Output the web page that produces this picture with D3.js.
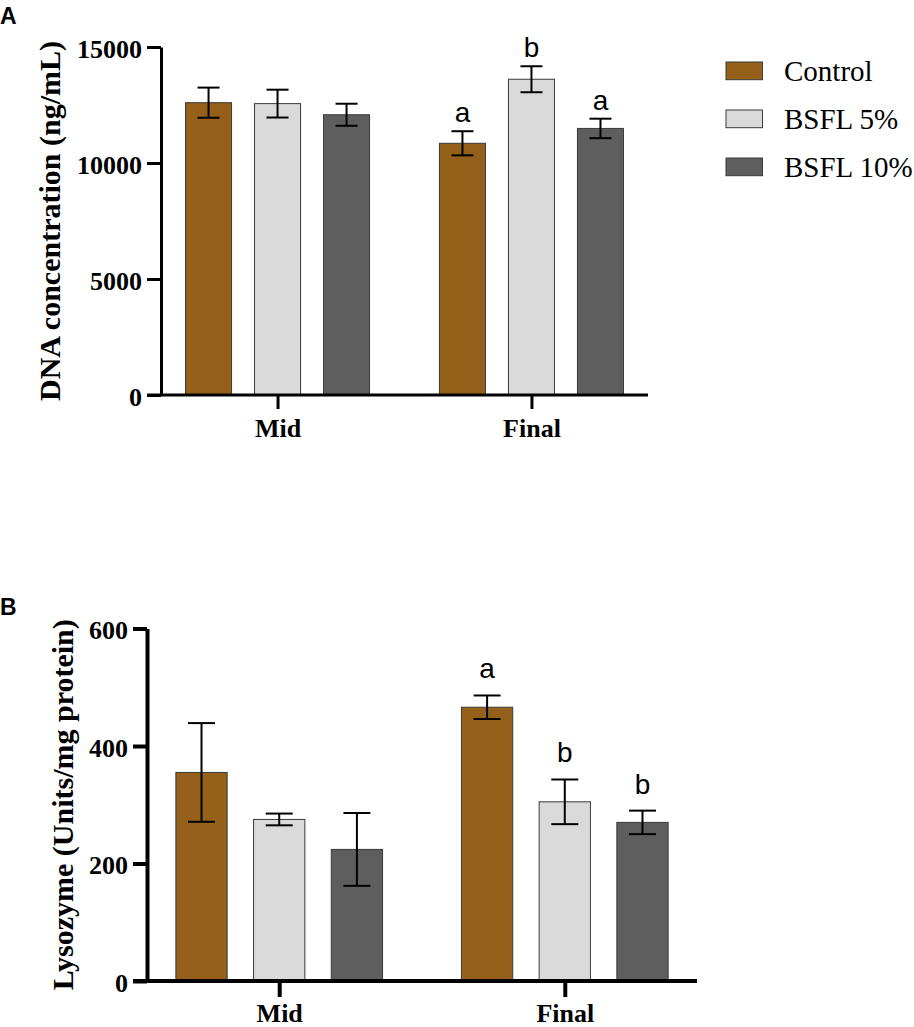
<!DOCTYPE html>
<html>
<head>
<meta charset="utf-8">
<script src="https://cdn.jsdelivr.net/npm/d3@7"></script>
<style>
  body { margin: 0; background: #fff; }
  svg { display: block; }
</style>
</head>
<body>
<div id="chart"></div>
<script>
const width = 914;
const height = 1027;

// data
const groups = ["Mid", "Final"];
const series = ["Control", "BSFL 5%", "BSFL 10%"];
const colors = ["#94601a", "#dadada", "#5e5e5e"];

// panel A: DNA concentration, order = Mid(Control, 5%, 10%), Final(Control, 5%, 10%)
const dnaMean = [12600, 12560, 12080, 10850, 13610, 11490];
const dnaErr = [650, 600, 475, 520, 560, 420];
const dnaLetters = ["", "", "", "a", "b", "a"];
const dnaTicks = [0, 5000, 10000, 15000];

// panel B: lysozyme
const lysMean = [355, 275, 224, 466, 305, 270];
const lysErr = [84, 10, 62, 20, 38, 20];
const lysLetters = ["", "", "", "a", "b", "b"];
const lysTicks = [0, 200, 400, 600];

const serif = "'Liberation Serif', 'Times New Roman', serif";
const sans = "'Liberation Sans', Arial, sans-serif";

const svg = d3.select("#chart").append("svg")
  .attr("width", width)
  .attr("height", height);

function panel(opt) {
  const g = svg.append("g");

  const y = d3.scaleLinear().domain([0, opt.yMax]).range([opt.y0, opt.yTop]);
  const x = d3.scalePoint().domain(groups).range([opt.xAxis, opt.xEnd]).padding(opt.pad);
  const inner = d3.scaleBand().domain(series)
    .range([-1.5 * opt.step, 1.5 * opt.step])
    .paddingInner(opt.barPad).paddingOuter(opt.barPad / 2);

  const rows = [];
  groups.forEach((grp, gi) => {
    series.forEach((s, si) => {
      const i = gi * series.length + si;
      rows.push({ grp, s, si, v: opt.mean[i], e: opt.err[i], lab: opt.letters[i] });
    });
  });

  const cx = d => x(d.grp) + inner(d.s) + inner.bandwidth() / 2;

  // bars
  g.selectAll("rect.bar").data(rows).enter().append("rect")
    .attr("class", "bar")
    .attr("x", d => x(d.grp) + inner(d.s))
    .attr("y", d => y(d.v))
    .attr("width", inner.bandwidth())
    .attr("height", d => y(0) - y(d.v))
    .attr("fill", d => colors[d.si])
    .attr("stroke", "#3a3a3a")
    .attr("stroke-width", 1);

  // error bars
  const eb = g.selectAll("g.err").data(rows).enter().append("g")
    .attr("stroke", "#000")
    .attr("stroke-width", 2);
  eb.append("line")
    .attr("x1", cx).attr("x2", cx)
    .attr("y1", d => y(d.v + d.e)).attr("y2", d => y(d.v - d.e));
  eb.append("line")
    .attr("x1", d => cx(d) - opt.cap / 2).attr("x2", d => cx(d) + opt.cap / 2)
    .attr("y1", d => y(d.v + d.e)).attr("y2", d => y(d.v + d.e));
  eb.append("line")
    .attr("x1", d => cx(d) - opt.cap / 2).attr("x2", d => cx(d) + opt.cap / 2)
    .attr("y1", d => y(d.v - d.e)).attr("y2", d => y(d.v - d.e));

  // significance letters
  g.selectAll("text.sig").data(rows.filter(d => d.lab)).enter().append("text")
    .attr("x", cx)
    .attr("y", d => y(d.v + d.e) - opt.letterGap)
    .attr("text-anchor", "middle")
    .style("font-family", sans)
    .style("font-size", "28px")
    .text(d => d.lab);

  // y axis
  const yAxis = g.append("g")
    .attr("transform", `translate(${opt.xAxis},0)`)
    .call(d3.axisLeft(y).tickValues(opt.ticks).tickFormat(d3.format("d"))
      .tickSize(opt.tickLen).tickSizeOuter(0).tickPadding(5));
  yAxis.select(".domain").attr("stroke-width", opt.lw).attr("stroke", "#000");
  yAxis.selectAll(".tick line").attr("stroke-width", opt.lw).attr("stroke", "#000");
  yAxis.selectAll(".tick text")
    .attr("dy", "0.4em")
    .style("font-family", serif)
    .style("font-weight", "bold")
    .style("font-size", "26px")
    .attr("fill", "#000");

  // x axis baseline
  g.append("line")
    .attr("x1", opt.xAxis - opt.tickLen).attr("x2", opt.xEnd)
    .attr("y1", y(0)).attr("y2", y(0))
    .attr("stroke", "#000").attr("stroke-width", opt.lw);

  const xAxis = g.append("g")
    .attr("transform", `translate(0,${y(0)})`)
    .call(d3.axisBottom(x).tickSize(opt.xTickLen).tickSizeOuter(0).tickPadding(opt.xPad));
  xAxis.select(".domain").remove();
  xAxis.selectAll(".tick line").attr("stroke-width", opt.lw).attr("stroke", "#000");
  xAxis.selectAll(".tick text")
    .attr("dy", "0")
    .style("font-family", serif)
    .style("font-weight", "bold")
    .style("font-size", "26px")
    .attr("fill", "#000");

  // y title
  g.append("text")
    .attr("transform", `translate(${opt.titleX},${(opt.y0 + opt.yTop) / 2}) rotate(-90)`)
    .attr("text-anchor", "middle")
    .style("font-family", serif)
    .style("font-weight", "bold")
    .style("font-size", "30px")
    .text(opt.title);

  // panel letter
  g.append("text")
    .attr("x", 0)
    .attr("y", opt.labelY)
    .style("font-family", sans)
    .style("font-weight", "bold")
    .style("font-size", "23px")
    .text(opt.label);
}

panel({
  mean: dnaMean, err: dnaErr, letters: dnaLetters, ticks: dnaTicks, yMax: 15000,
  y0: 395, yTop: 47, xAxis: 161, xEnd: 648, pad: 0.459, step: 69, barPad: 0.333,
  cap: 22, lw: 3, tickLen: 14, xTickLen: 14, xPad: 28, letterGap: 9,
  title: "DNA concentration (ng/mL)", titleX: 60, label: "A", labelY: 24
});

panel({
  mean: lysMean, err: lysErr, letters: lysLetters, ticks: lysTicks, yMax: 600,
  y0: 981, yTop: 628.5, xAxis: 147, xEnd: 697, pad: 0.463, step: 77.7, barPad: 0.34,
  cap: 27, lw: 4, tickLen: 14, xTickLen: 16, xPad: 25, letterGap: 17,
  title: "Lysozyme (Units/mg protein)", titleX: 73, label: "B", labelY: 615
});

// legend
const legend = svg.append("g").attr("transform", "translate(726,62)");
const item = legend.selectAll("g").data(series).enter().append("g")
  .attr("transform", (d, i) => `translate(0,${i * 48})`);
item.append("rect")
  .attr("width", 36.5).attr("height", 17.7)
  .attr("fill", (d, i) => colors[i])
  .attr("stroke", "#3a3a3a").attr("stroke-width", 1);
item.append("text")
  .attr("x", 58).attr("y", 19)
  .style("font-family", serif)
  .style("font-size", "29px")
  .text(d => d);
</script>
</body>
</html>
